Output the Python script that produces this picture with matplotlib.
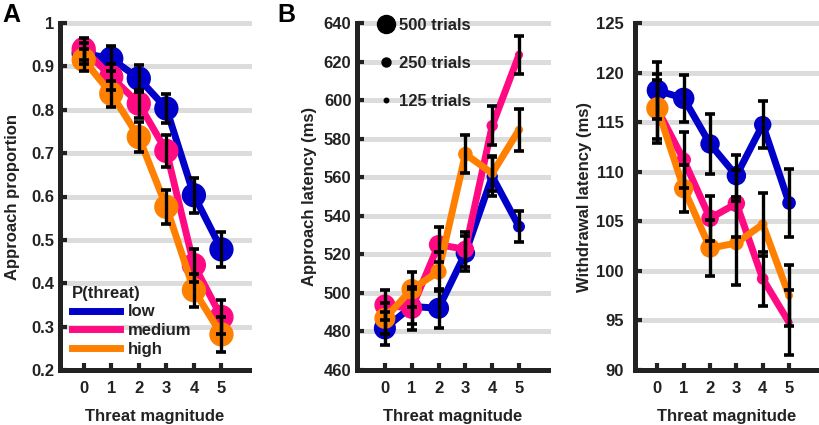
import matplotlib
matplotlib.use("Agg")
import matplotlib.pyplot as plt
from matplotlib.lines import Line2D
import numpy as np

plt.rcParams['font.family'] = ['Liberation Sans', 'DejaVu Sans']
plt.rcParams['font.weight'] = 'bold'

# ---------------- data ----------------
magnitude = [0, 1, 2, 3, 4, 5]
groups = ['low', 'medium', 'high']

# Panel A: approach proportion
prop_low = [0.930, 0.918, 0.872, 0.803, 0.603, 0.478]
prop_med = [0.940, 0.876, 0.814, 0.705, 0.442, 0.322]
prop_high = [0.915, 0.837, 0.737, 0.576, 0.384, 0.282]
prop_err_low = [0.025, 0.028, 0.031, 0.033, 0.040, 0.040]
prop_err_med = [0.025, 0.030, 0.032, 0.036, 0.038, 0.040]
prop_err_high = [0.025, 0.030, 0.035, 0.040, 0.038, 0.040]

# Panel B: approach latency (ms)
app_low = [481.6, 493.0, 492.0, 520.6, 560.4, 534.4]
app_med = [493.7, 492.0, 525.0, 522.6, 586.7, 623.5]
app_high = [486.8, 501.9, 511.0, 572.0, 562.0, 584.6]
app_err_low = [8.5, 9.0, 10.0, 9.0, 10.0, 8.0]
app_err_med = [8.0, 11.0, 9.0, 9.0, 10.0, 10.0]
app_err_high = [8.0, 9.0, 10.0, 10.0, 9.0, 11.0]
app_trials_low = [615, 540, 585, 540, 315, 330]
app_trials_med = [585, 585, 540, 485, 315, 225]
app_trials_high = [585, 570, 450, 405, 270, 225]

# Panel C: withdrawal latency (ms)
wd_low = [118.2, 117.4, 112.8, 109.6, 114.75, 106.85]
wd_med = [116.3, 111.2, 105.3, 106.8, 99.2, 94.8]
wd_high = [116.4, 108.3, 102.3, 102.8, 104.7, 97.5]
wd_err_low = [2.9, 2.4, 3.0, 2.1, 2.35, 3.45]
wd_err_med = [3.0, 2.8, 2.3, 3.4, 2.7, 3.3]
wd_err_high = [3.5, 2.4, 2.8, 4.2, 3.2, 3.1]
wd_trials_low = [595, 595, 540, 540, 485, 380]
wd_trials_med = [540, 405, 485, 485, 325, 190]
wd_trials_high = [620, 540, 540, 405, 270, 215]

legend_trials = [500, 250, 125]

# ---------------- style ----------------
colors = ['#0000C8', '#FF0A82', '#FF8000']
dark = '#222222'
grid_c = '#DCDCDC'
LW = 5.0
PX2PT = 72.0 / 100.0
def trial_ms(n):
    # marker diameter (pt) proportional to the number of trials
    return np.asarray(n) * 0.036 * PX2PT

fig = plt.figure(figsize=(8.2, 4.25), dpi=100)

def style_axes(ax, xlim, ylim, yticks, yticklabels, ylabel, ypad, lpad):
    ax.set_xlim(*xlim)
    ax.set_ylim(*ylim)
    ax.set_xticks(magnitude)
    ax.set_xticklabels([str(m) for m in magnitude])
    ax.set_yticks(yticks)
    ax.set_yticklabels(yticklabels)
    for s in ['top', 'right']:
        ax.spines[s].set_visible(False)
    for s in ['left', 'bottom']:
        ax.spines[s].set_linewidth(3.6)
        ax.spines[s].set_color(dark)
        ax.spines[s].set_zorder(10)
    ax.tick_params(axis='both', direction='in', length=5, width=3, color=dark,
                   labelsize=12, labelcolor=dark)
    ax.tick_params(axis='y', pad=ypad)
    ax.tick_params(axis='x', pad=8)
    ax.set_axisbelow(True)
    ax.yaxis.grid(True, color=grid_c, linewidth=3.6)
    for gl in ax.get_ygridlines():
        gl.set_clip_on(False)
    ax.set_xlabel('Threat magnitude', fontsize=12, fontweight='bold', color=dark, labelpad=9)
    ax.set_ylabel(ylabel, fontsize=12, fontweight='bold', color=dark, labelpad=lpad)

def draw_series(ax, ys, errs, sizes):
    for y, c, s in zip(ys, colors, sizes):
        ax.plot(magnitude, y, color=c, lw=LW, solid_capstyle='round', zorder=3)
        ms = np.broadcast_to(s, (len(magnitude),))
        ax.scatter(magnitude, y, s=ms ** 2, color=c, zorder=3, linewidths=0)
    for y, e in zip(ys, errs):
        ax.errorbar(magnitude, y, yerr=e, fmt='none', ecolor='black', elinewidth=2.4,
                    capsize=3.4, capthick=2.6, zorder=5)

H = 347 / 425
B0 = 55 / 425

# ---- Panel A ----
axA = fig.add_axes([60 / 820, B0, 189 / 820, H])
draw_series(axA, [prop_low, prop_med, prop_high],
            [prop_err_low, prop_err_med, prop_err_high],
            [17.5, 17.5, 17.5])
yt = np.round(np.arange(0.2, 1.01, 0.1), 1)
style_axes(axA, (-0.86, 6.0), (0.2, 1.0), yt,
           ['1' if v == 1.0 else f'{v:.1f}' for v in yt], 'Approach proportion', 4, 8)
hA = [Line2D([], [], color=c, lw=LW) for c in colors]
legA = axA.legend(hA, groups, title='P(threat)', loc='lower left',
                  bbox_to_anchor=(0.063, 0.038), borderpad=0, borderaxespad=0,
                  frameon=False, handlelength=2.9, handletextpad=0.45,
                  labelspacing=0.22, fontsize=12, alignment='left',
                  title_fontproperties={'size': 12, 'weight': 'bold'})
for t in legA.get_texts():
    t.set_color(dark)
legA.get_title().set_color(dark)

# ---- Panel B ----
axB = fig.add_axes([357 / 820, B0, 191 / 820, H])
draw_series(axB, [app_low, app_med, app_high],
            [app_err_low, app_err_med, app_err_high],
            [trial_ms(app_trials_low), trial_ms(app_trials_med), trial_ms(app_trials_high)])
yt = np.arange(460, 641, 20)
style_axes(axB, (-1.04, 6.08), (460, 640), yt, [str(v) for v in yt],
           'Approach latency (ms)', 4, 5)
hB = [Line2D([], [], color='black', marker='o', linestyle='none', markersize=m)
      for m in trial_ms(legend_trials)]
legB = axB.legend(hB, [f'{n} trials' for n in legend_trials], loc='upper left',
                  bbox_to_anchor=(0.107, 1.014), borderpad=0, borderaxespad=0,
                  frameon=False, handlelength=1.0, handletextpad=0.3,
                  labelspacing=1.38, fontsize=12)
for t in legB.get_texts():
    t.set_color(dark)

# ---- Panel C ----
axC = fig.add_axes([635 / 820, B0, 183 / 820, H])
draw_series(axC, [wd_low, wd_med, wd_high],
            [wd_err_low, wd_err_med, wd_err_high],
            [trial_ms(wd_trials_low), trial_ms(wd_trials_med), trial_ms(wd_trials_high)])
yt = np.arange(90, 126, 5)
style_axes(axC, (-0.85, 6.1), (90, 125), yt, [str(v) for v in yt],
           'Withdrawal latency (ms)', 8, 3)

fig.text(2 / 820, 1 - 3 / 425, 'A', fontsize=18, fontweight='bold', va='top', ha='left', color='black')
fig.text(277 / 820, 1 - 3 / 425, 'B', fontsize=18, fontweight='bold', va='top', ha='left', color='black')

fig.savefig('out.png', dpi=100)
